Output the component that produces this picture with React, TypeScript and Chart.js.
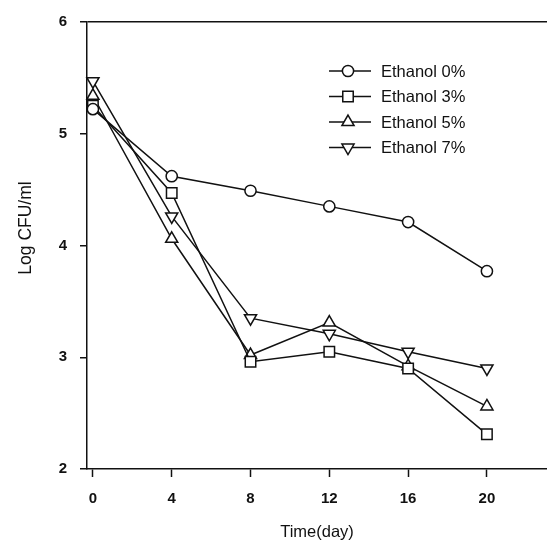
import React, { useEffect, useRef } from "react";
import { Chart, registerables } from "chart.js";

Chart.register(...registerables);

// ---- data ----
const days = [0, 4, 8, 12, 16, 20];
const xTickValues = [0, 4, 8, 12, 16, 20];
const yTickValues = [2, 3, 4, 5, 6];
const seriesLabels = ["Ethanol 0%", "Ethanol 3%", "Ethanol 5%", "Ethanol 7%"];
const ethanol0 = [5.22, 4.62, 4.49, 4.35, 4.21, 3.77];
const ethanol3 = [5.25, 4.47, 2.96, 3.05, 2.9, 2.31];
const ethanol5 = [5.34, 4.06, 3.02, 3.31, 2.92, 2.56];
const ethanol7 = [5.47, 4.26, 3.35, 3.21, 3.05, 2.9];
const xTitle = "Time(day)";
const yTitle = "Log CFU/ml";

const INK = "#111";
const FONT = '"Liberation Sans", Arial, sans-serif';

const markerStyles = [
  { style: "circle", radius: 5.6, rotation: 0 },
  { style: "rect", radius: 7.4, rotation: 0 },
  { style: "triangle", radius: 7, rotation: 0 },
  { style: "triangle", radius: 7, rotation: 180 },
];

function drawMarker(ctx: CanvasRenderingContext2D, style: string, r: number, rot: number, x: number, y: number) {
  ctx.beginPath();
  if (style === "circle") {
    ctx.arc(x, y, r, 0, Math.PI * 2);
  } else if (style === "rect") {
    const s = Math.SQRT1_2 * r;
    ctx.rect(x - s, y - s, 2 * s, 2 * s);
  } else {
    let rad = (rot * Math.PI) / 180;
    for (let i = 0; i < 3; i++) {
      const px = x + Math.sin(rad) * r;
      const py = y - Math.cos(rad) * r;
      if (i === 0) ctx.moveTo(px, py);
      else ctx.lineTo(px, py);
      rad += (2 * Math.PI) / 3;
    }
    ctx.closePath();
  }
  ctx.fillStyle = "#fff";
  ctx.fill();
  ctx.lineWidth = 1.5;
  ctx.strokeStyle = INK;
  ctx.stroke();
}

const legendPlugin = {
  id: "lineLegend",
  afterDraw(chart: any) {
    const ctx: CanvasRenderingContext2D = chart.ctx;
    const rows = [71, 96.5, 122, 147.5];
    ctx.save();
    chart.data.datasets.forEach((ds: any, i: number) => {
      const y = rows[i];
      const m = markerStyles[i];
      ctx.beginPath();
      ctx.moveTo(329, y);
      ctx.lineTo(371, y);
      ctx.lineWidth = 1.5;
      ctx.strokeStyle = INK;
      ctx.stroke();
      drawMarker(ctx, m.style, m.radius, m.rotation, 348, y);
      ctx.fillStyle = INK;
      ctx.font = `16.5px ${FONT}`;
      ctx.textBaseline = "middle";
      ctx.textAlign = "left";
      ctx.fillText(ds.label, 381, y + 1);
    });
    // rotated y-axis title
    ctx.translate(26, 228);
    ctx.rotate(-Math.PI / 2);
    ctx.font = `17.5px ${FONT}`;
    ctx.textAlign = "center";
    ctx.textBaseline = "middle";
    ctx.fillStyle = INK;
    ctx.fillText(yTitle, 0, 0);
    ctx.restore();
  },
};

const seriesValues = [ethanol0, ethanol3, ethanol5, ethanol7];

export default function App() {
  const ref = useRef<HTMLCanvasElement | null>(null);

  useEffect(() => {
    if (!ref.current) return;
    const chart = new Chart(ref.current, {
      type: "line",
      data: {
        datasets: seriesValues.map((vals, i) => ({
          label: seriesLabels[i],
          data: days.map((d, j) => ({ x: d, y: vals[j] })),
          borderColor: INK,
          borderWidth: 1.5,
          backgroundColor: "#fff",
          pointStyle: markerStyles[i].style as any,
          pointRadius: markerStyles[i].radius,
          pointRotation: markerStyles[i].rotation,
          pointBorderWidth: 1.5,
          pointBorderColor: INK,
          pointBackgroundColor: "#fff",
          tension: 0,
          clip: false as any,
        })),
      },
      options: {
        animation: false,
        responsive: false,
        layout: { autoPadding: false, padding: { top: 14, right: 0, left: 0, bottom: 0 } } as any,
        plugins: {
          legend: { display: false },
          tooltip: { enabled: false },
        },
        scales: {
          x: {
            type: "linear",
            min: -0.3,
            max: 23.05,
            afterBuildTicks: (axis: any) => {
              axis.ticks = xTickValues.map((v) => ({ value: v }));
            },
            afterFit: (s: any) => {
              s.height = 73;
              s.paddingRight = 0;
              s.paddingLeft = 0;
            },
            ticks: {
              color: INK,
              font: { family: FONT, size: 15, weight: "bold" },
              padding: 13,
              maxRotation: 0,
              autoSkip: false,
            },
            grid: {
              drawOnChartArea: false,
              drawTicks: true,
              tickLength: 8,
              tickColor: INK,
              tickWidth: 1.5,
            },
            border: { display: true, color: INK, width: 1.5 },
            title: {
              display: true,
              text: xTitle,
              color: INK,
              font: { family: FONT, size: 16.5 },
              padding: { top: 0, bottom: 0 },
            },
          },
          y: {
            type: "linear",
            min: 2,
            max: 6,
            afterBuildTicks: (axis: any) => {
              axis.ticks = yTickValues.map((v) => ({ value: v }));
            },
            afterFit: (s: any) => {
              s.width = 87;
            },
            ticks: {
              color: INK,
              font: { family: FONT, size: 15, weight: "bold" },
              padding: 13,
            },
            grid: {
              drawOnChartArea: true,
              color: (c: any) => (c.tick && c.tick.value === 6 ? INK : "rgba(0,0,0,0)"),
              lineWidth: 1.5,
              drawTicks: true,
              tickLength: 7,
              tickColor: INK,
              tickWidth: 1.5,
            },
            border: { display: true, color: INK, width: 1.5 },
            title: { display: false },
          },
        },
      },
      plugins: [legendPlugin],
    });
    return () => chart.destroy();
  }, []);

  return (
    <div style={{ position: "absolute", left: 0, top: 0, width: 547, height: 542, background: "#fff" }}>
      <canvas ref={ref} width={547} height={542} style={{ display: "block" }} />
    </div>
  );
}
